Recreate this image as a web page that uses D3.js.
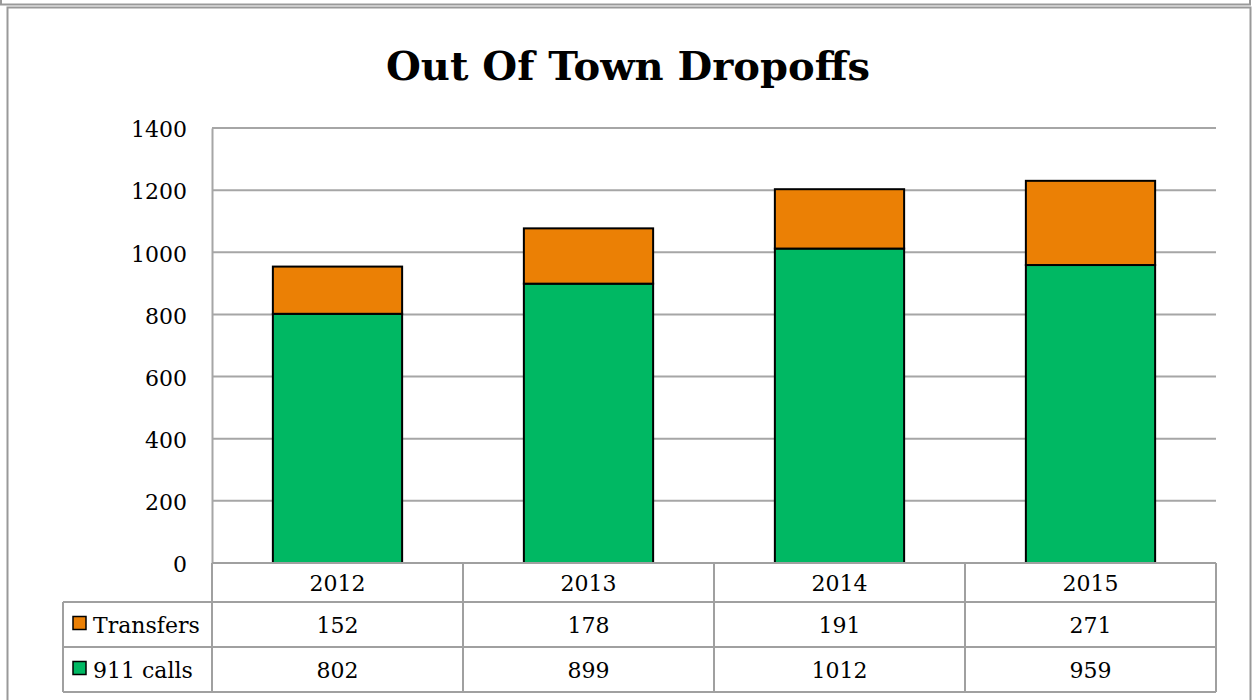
<!DOCTYPE html>
<html lang="en">
<head>
    <title>Out Of Town Dropoffs</title>
    <script src="https://d3js.org/d3.v7.min.js"></script>
    <style>
        body {
            margin: 0;
            background: white;
        }
        svg text {
            font-family: 'DejaVu Serif', 'Liberation Serif', serif;
            fill: black;
        }
    </style>
</head>
<body>
    <div id="chart"></div>

    <script>
        // data
        const years = ["2012", "2013", "2014", "2015"];
        const calls911 = [802, 899, 1012, 959];
        const transfers = [152, 178, 191, 271];
        const yTicks = [0, 200, 400, 600, 800, 1000, 1200, 1400];
        const seriesNames = ["Transfers", "911 calls"];
        const seriesColors = ["#EB8005", "#00B863"];

        const W = 1257, H = 700;
        const plot = {left: 212, right: 1216, top: 128, bottom: 563};
        const rowH = [39, 45, 45]; // header, transfers, 911 calls

        const svg = d3.select("#chart")
            .append("svg")
            .attr("width", W)
            .attr("height", H);

        // outer frames
        svg.append("path")
            .attr("d", `M1,0 V4.5 H1250 V0`)
            .attr("fill", "none")
            .attr("stroke", "#999")
            .attr("stroke-width", 2);
        svg.append("rect")
            .attr("x", 7.5).attr("y", 7.5)
            .attr("width", 1243).attr("height", 720)
            .attr("fill", "none")
            .attr("stroke", "#999")
            .attr("stroke-width", 2);

        // title
        svg.append("text")
            .attr("x", 628)
            .attr("y", 80)
            .attr("text-anchor", "middle")
            .style("font-size", "40px")
            .style("font-weight", "bold")
            .text("Out Of Town Dropoffs");

        const x = d3.scaleBand()
            .domain(years)
            .range([plot.left, plot.right])
            .paddingInner(0)
            .paddingOuter(0);

        const y = d3.scaleLinear()
            .domain([0, 1400])
            .range([plot.bottom, plot.top]);

        // gridlines
        svg.append("g")
            .selectAll("line")
            .data(yTicks.filter(d => d > 0))
            .enter()
            .append("line")
            .attr("x1", plot.left)
            .attr("x2", plot.right)
            .attr("y1", d => y(d))
            .attr("y2", d => y(d))
            .attr("stroke", "#a6a6a6")
            .attr("stroke-width", 2);

        // y axis
        const yAxis = svg.append("g")
            .attr("transform", `translate(${plot.left},0)`)
            .call(d3.axisLeft(y).tickValues(yTicks).tickFormat(d3.format("d")).tickSize(0).tickPadding(25));
        yAxis.select(".domain")
            .attr("stroke", "#a6a6a6")
            .attr("stroke-width", 2);
        yAxis.selectAll("text")
            .style("font-size", "22px")
            .attr("dy", "0.4em");

        // stacked bars
        const barW = x.bandwidth() * 0.515;
        const stacked = years.map((yr, i) => ({year: yr, calls: calls911[i], transfers: transfers[i]}));

        const bars = svg.append("g");
        bars.selectAll(".bar-calls")
            .data(stacked)
            .enter()
            .append("rect")
            .attr("class", "bar-calls")
            .attr("x", d => x(d.year) + (x.bandwidth() - barW) / 2)
            .attr("y", d => y(d.calls))
            .attr("width", barW)
            .attr("height", d => y(0) - y(d.calls))
            .attr("fill", seriesColors[1])
            .attr("stroke", "black")
            .attr("stroke-width", 2);

        bars.selectAll(".bar-transfers")
            .data(stacked)
            .enter()
            .append("rect")
            .attr("class", "bar-transfers")
            .attr("x", d => x(d.year) + (x.bandwidth() - barW) / 2)
            .attr("y", d => y(d.calls + d.transfers))
            .attr("width", barW)
            .attr("height", d => y(d.calls) - y(d.calls + d.transfers))
            .attr("fill", seriesColors[0])
            .attr("stroke", "black")
            .attr("stroke-width", 2);

        // data table
        const tableLeft = 63;
        const rowTop = [plot.bottom, plot.bottom + rowH[0], plot.bottom + rowH[0] + rowH[1]];
        const tableBottom = rowTop[2] + rowH[2];
        const table = svg.append("g")
            .attr("stroke", "#a0a0a0")
            .attr("stroke-width", 2);

        // horizontal lines
        table.append("line")
            .attr("x1", plot.left).attr("x2", plot.right)
            .attr("y1", plot.bottom).attr("y2", plot.bottom);
        [rowTop[1], rowTop[2], tableBottom].forEach(yy => {
            table.append("line")
                .attr("x1", tableLeft).attr("x2", plot.right)
                .attr("y1", yy).attr("y2", yy);
        });
        // vertical lines
        table.append("line")
            .attr("x1", tableLeft).attr("x2", tableLeft)
            .attr("y1", rowTop[1]).attr("y2", tableBottom);
        years.concat(["end"]).forEach((yr, i) => {
            const xx = i < years.length ? x(yr) : plot.right;
            table.append("line")
                .attr("x1", xx).attr("x2", xx)
                .attr("y1", plot.bottom).attr("y2", tableBottom);
        });

        // header row
        svg.append("g")
            .selectAll("text")
            .data(years)
            .enter()
            .append("text")
            .attr("x", d => x(d) + x.bandwidth() / 2)
            .attr("y", rowTop[0] + rowH[0] / 2)
            .attr("dy", "0.4em")
            .attr("text-anchor", "middle")
            .style("font-size", "22px")
            .text(d => d);

        // value rows
        const rows = [transfers, calls911];
        rows.forEach((vals, r) => {
            const cy = rowTop[r + 1] + rowH[r + 1] / 2;
            svg.append("g")
                .selectAll("text")
                .data(vals)
                .enter()
                .append("text")
                .attr("x", (d, i) => x(years[i]) + x.bandwidth() / 2)
                .attr("y", cy)
                .attr("dy", "0.4em")
                .attr("text-anchor", "middle")
                .style("font-size", "22px")
                .text(d => d);

            // legend key + name
            svg.append("rect")
                .attr("x", 73).attr("y", cy - 8)
                .attr("width", 13).attr("height", 13)
                .attr("fill", seriesColors[r])
                .attr("stroke", "black")
                .attr("stroke-width", 1.5);
            svg.append("text")
                .attr("x", 93)
                .attr("y", cy)
                .attr("dy", "0.4em")
                .style("font-size", "22px")
                .text(seriesNames[r]);
        });
    </script>
</body>
</html>
